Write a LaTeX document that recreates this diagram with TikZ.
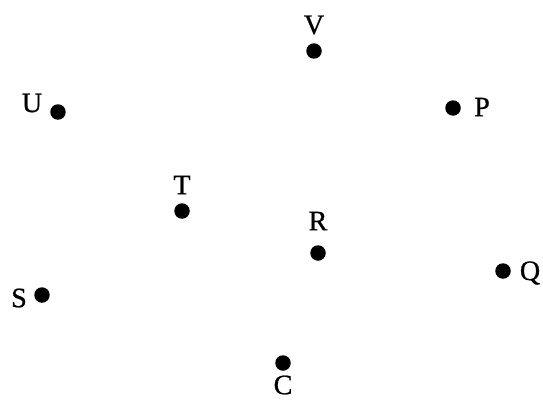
\documentclass[tikz,border=0pt]{standalone}
\usepackage{fontspec}
\setmainfont{Liberation Serif}
\newfontfamily\ptfont{Liberation Serif}[FakeBold=0.8]
\begin{document}
\begin{tikzpicture}[x=0.02cm, y=-0.02cm, font=\fontsize{16}{19}\selectfont\ptfont,
	dot/.style={circle, fill, inner sep=0pt, minimum size=0.31cm},
	lbl/.style={inner sep=0pt}]
	\useasboundingbox (0,0) rectangle (543,399);
	% points
	\node[dot] (V) at (314,51) {};
	\node[dot] (U) at (58,112) {};
	\node[dot] (P) at (453,108) {};
	\node[dot] (T) at (182,211) {};
	\node[dot] (R) at (318,253) {};
	\node[dot] (Q) at (503,271) {};
	\node[dot] (S) at (42,295) {};
	\node[dot] (C) at (283,363) {};
	% letters
	\node[lbl] (Vlab) at (314,25) {V};
	\node[lbl] (Ulab) at (32,103) {U};
	\node[lbl] (Plab) at (482,107) {P};
	\node[lbl] (Tlab) at (182,185) {T};
	\node[lbl] (Rlab) at (318,221) {R};
	\node[lbl] (Qlab) at (530,273) {Q};
	\node[lbl] (Slab) at (19,298) {S};
	\node[lbl] (Clab) at (283,385) {C};
\end{tikzpicture}
\end{document}
